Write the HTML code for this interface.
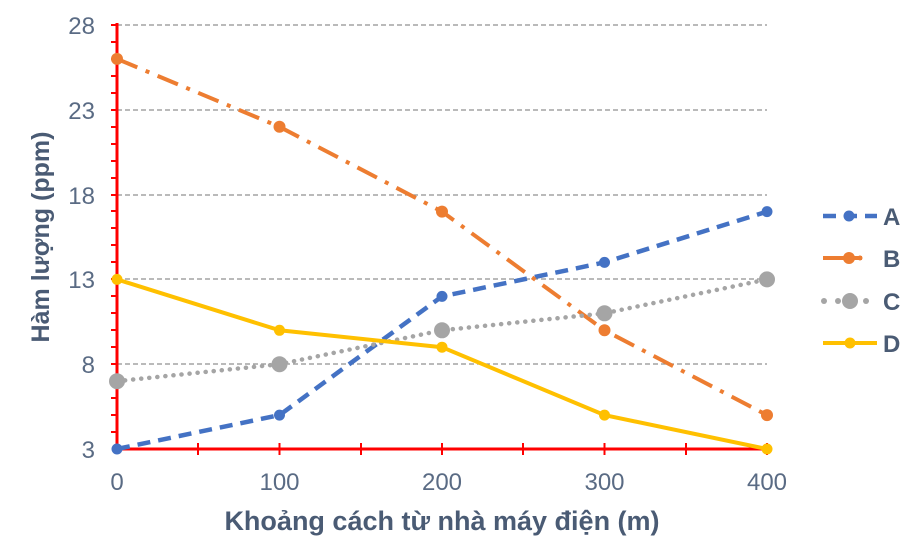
<!DOCTYPE html>
<html><head><meta charset="utf-8"><style>body{margin:0;background:#fff}svg{display:block}</style></head><body>
<svg width="923" height="560" xmlns="http://www.w3.org/2000/svg" font-family="Liberation Sans, sans-serif">
<g stroke="#909090" stroke-width="1.2" stroke-dasharray="5,3">
<line x1="117" y1="25" x2="767" y2="25"/><line x1="117" y1="110" x2="767" y2="110"/>
<line x1="117" y1="195" x2="767" y2="195"/><line x1="117" y1="279" x2="767" y2="279"/>
<line x1="117" y1="364" x2="767" y2="364"/></g>
<g stroke="#ff0000" stroke-width="3">
<line x1="117" y1="23" x2="117" y2="450"/><line x1="116" y1="449" x2="768" y2="449"/>
<path d="M111 432H117M111 415H117M111 398H117M111 381H117M111 364H117M111 347H117M111 330H117M111 313H117M111 296H117M111 279H117M111 262H117M111 245H117M111 228H117M111 211H117M111 195H117M111 178H117M111 161H117M111 144H117M111 127H117M111 110H117M111 93H117M111 76H117M111 59H117M111 42H117M111 25H117" stroke-width="2"/>
<path d="M198 443V455M279.5 443V455M361 443V455M442 443V455M523 443V455M604.5 443V455M686 443V455M767 443V455" stroke-width="2"/>
</g>
<g fill="#5a6b84" font-size="24" text-anchor="end">
<text x="95" y="34">28</text><text x="95" y="119">23</text><text x="95" y="204">18</text>
<text x="95" y="288">13</text><text x="95" y="373">8</text><text x="95" y="458">3</text></g>
<g fill="#5a6b84" font-size="24" text-anchor="middle">
<text x="117" y="490">0</text><text x="279.5" y="490">100</text><text x="442" y="490">200</text>
<text x="604.5" y="490">300</text><text x="767" y="490">400</text></g>
<text x="442" y="530" fill="#4a5b74" font-size="27" font-weight="bold" text-anchor="middle">Khoảng cách từ nhà máy điện (m)</text>
<text transform="translate(49,237) rotate(-90)" fill="#4a5b74" font-size="25" font-weight="bold" text-anchor="middle">Hàm lượng (ppm)</text>
<polyline points="117,449 279.5,415.1 442,296.4 604.5,262.4 767,211.6" fill="none" stroke="#4472c4" stroke-width="4.5" stroke-dasharray="13,8"/>
<polyline points="117,58.9 279.5,126.8 442,211.6 604.5,330.3 767,415.1" fill="none" stroke="#ed7d31" stroke-width="4" stroke-dasharray="22,9,4,9"/>
<polyline points="117,381.2 279.5,364.2 442,330.3 604.5,313.3 767,279.4" fill="none" stroke="#a5a5a5" stroke-width="4.5" stroke-dasharray="0.1,8" stroke-linecap="round"/>
<polyline points="117,279.4 279.5,330.3 442,347.2 604.5,415.1 767,449" fill="none" stroke="#ffc000" stroke-width="4"/>
<g fill="#4472c4"><circle cx="117" cy="449" r="5.5"/><circle cx="279.5" cy="415.1" r="5.5"/><circle cx="442" cy="296.4" r="5.5"/><circle cx="604.5" cy="262.4" r="5.5"/><circle cx="767" cy="211.6" r="5.5"/></g>
<g fill="#ed7d31"><circle cx="117" cy="58.9" r="6"/><circle cx="279.5" cy="126.8" r="6"/><circle cx="442" cy="211.6" r="6"/><circle cx="604.5" cy="330.3" r="6"/><circle cx="767" cy="415.1" r="6"/></g>
<g fill="#a5a5a5"><circle cx="117" cy="381.2" r="8"/><circle cx="279.5" cy="364.2" r="8"/><circle cx="442" cy="330.3" r="8"/><circle cx="604.5" cy="313.3" r="8"/><circle cx="767" cy="279.4" r="8"/></g>
<g fill="#ffc000"><circle cx="117" cy="279.4" r="5.5"/><circle cx="279.5" cy="330.3" r="5.5"/><circle cx="442" cy="347.2" r="5.5"/><circle cx="604.5" cy="415.1" r="5.5"/><circle cx="767" cy="449" r="5.5"/></g>
<line x1="823" y1="216" x2="877" y2="216" stroke="#4472c4" stroke-width="4.5" stroke-dasharray="13,8"/><circle cx="849" cy="216" r="5.5" fill="#4472c4"/>
<line x1="823" y1="258" x2="862" y2="258" stroke="#ed7d31" stroke-width="4"/><circle cx="849" cy="258" r="6" fill="#ed7d31"/><circle cx="860" cy="258" r="2.5" fill="#ed7d31"/>
<circle cx="824" cy="301" r="3" fill="#a5a5a5"/><circle cx="838" cy="301" r="3" fill="#a5a5a5"/><circle cx="850" cy="301" r="8" fill="#a5a5a5"/><circle cx="866" cy="301" r="3" fill="#a5a5a5"/>
<line x1="823" y1="343" x2="877" y2="343" stroke="#ffc000" stroke-width="4"/><circle cx="850" cy="343" r="5.5" fill="#ffc000"/>
<g fill="#4a5b74" font-size="24" font-weight="bold">
<text x="883" y="225">A</text><text x="883" y="267">B</text><text x="883" y="310">C</text><text x="883" y="352">D</text></g>
</svg>
</body></html>
